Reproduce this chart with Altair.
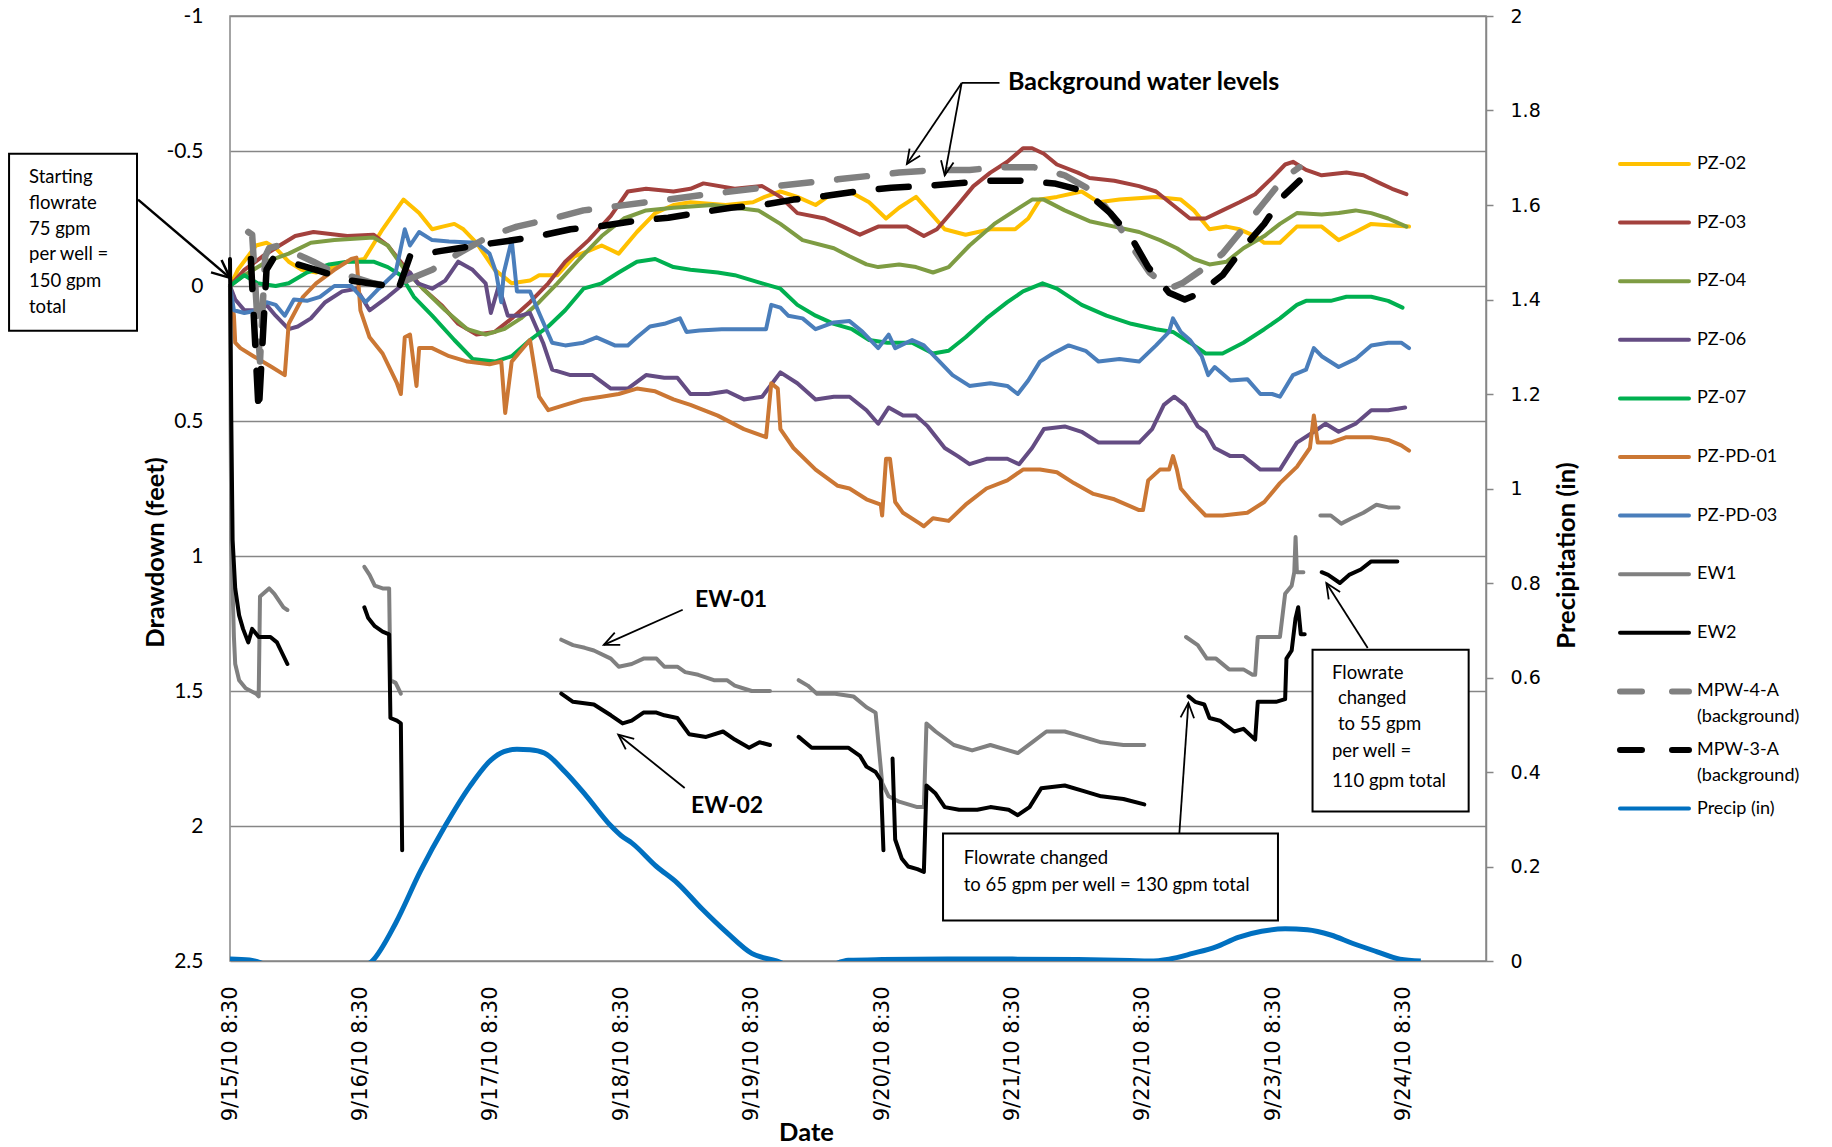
import math

import altair as alt
import pandas as pd

# ---------------------------------------------------------------------------
# Time axis: days elapsed since 9/15/10 8:30
# ---------------------------------------------------------------------------
TICK_DAYS = [0, 1, 2, 3, 4, 5, 6, 7, 8, 9]
TICK_LABELS = [
    "9/15/10 8:30", "9/16/10 8:30", "9/17/10 8:30", "9/18/10 8:30",
    "9/19/10 8:30", "9/20/10 8:30", "9/21/10 8:30", "9/22/10 8:30",
    "9/23/10 8:30", "9/24/10 8:30",
]
X_DOMAIN = [0, 9.63]

# ---------------------------------------------------------------------------
# Piezometer drawdown (feet)
# ---------------------------------------------------------------------------
pz02_day = [0, 0.06, 0.2, 0.28, 0.35, 0.45, 0.55, 0.66, 0.8, 0.9, 1.03, 1.17, 1.33, 1.45,
            1.55, 1.63, 1.72, 1.79, 1.89, 2.03, 2.16, 2.3, 2.37, 2.51, 2.64, 2.75, 2.85,
            2.98, 3.12, 3.26, 3.4, 3.53, 3.8, 4.01, 4.1, 4.22, 4.35, 4.49, 4.58, 4.66, 4.75,
            4.9, 5.03, 5.13, 5.26, 5.39, 5.48, 5.64, 5.83, 6.02, 6.12, 6.21, 6.34, 6.53,
            6.66, 6.82, 7.1, 7.29, 7.39, 7.51, 7.64, 7.74, 7.86, 7.93, 8.05, 8.18, 8.37,
            8.5, 8.63, 8.75, 8.88, 9.04]
pz02_dd = [0, -0.06, -0.15, -0.16, -0.14, -0.09, -0.06, -0.05, -0.07, -0.09, -0.1, -0.21,
           -0.32, -0.27, -0.21, -0.22, -0.23, -0.21, -0.16, -0.06, -0.01, -0.02, -0.04,
           -0.04, -0.11, -0.13, -0.15, -0.12, -0.2, -0.27, -0.3, -0.31, -0.3, -0.31, -0.33,
           -0.35, -0.33, -0.3, -0.33, -0.34, -0.35, -0.31, -0.25, -0.29, -0.33, -0.26,
           -0.21, -0.19, -0.21, -0.21, -0.25, -0.32, -0.33, -0.35, -0.31, -0.32, -0.33,
           -0.32, -0.28, -0.21, -0.22, -0.21, -0.185, -0.16, -0.16, -0.22, -0.22, -0.17,
           -0.2, -0.23, -0.225, -0.22]

pz03_day = [0, 0.11, 0.25, 0.38, 0.5, 0.64, 0.9, 1.1, 1.21, 1.34, 1.48, 1.62, 1.75, 1.89,
            2.03, 2.16, 2.3, 2.44, 2.57, 2.75, 2.92, 3.05, 3.19, 3.4, 3.53, 3.63, 3.87, 4.08,
            4.22, 4.35, 4.56, 4.7, 4.83, 4.97, 5.19, 5.32, 5.42, 5.58, 5.7, 5.83, 5.96,
            6.08, 6.15, 6.24, 6.34, 6.5, 6.59, 6.78, 6.97, 7.1, 7.23, 7.36, 7.48, 7.61,
            7.74, 7.86, 7.99, 8.09, 8.15, 8.25, 8.37, 8.56, 8.69, 8.82, 8.91, 9.02]
pz03_dd = [0, -0.06, -0.11, -0.15, -0.185, -0.2, -0.185, -0.19, -0.15, -0.07, 0.01, 0.07,
           0.14, 0.18, 0.17, 0.12, 0.06, -0.01, -0.09, -0.17, -0.26, -0.35, -0.36, -0.35,
           -0.36, -0.38, -0.36, -0.37, -0.33, -0.27, -0.25, -0.22, -0.19, -0.22, -0.22,
           -0.185, -0.21, -0.3, -0.37, -0.42, -0.46, -0.51, -0.51, -0.49, -0.45, -0.42,
           -0.4, -0.39, -0.37, -0.35, -0.3, -0.25, -0.25, -0.28, -0.31, -0.34, -0.4,
           -0.45, -0.46, -0.43, -0.41, -0.42, -0.41, -0.38, -0.36, -0.34]

pz04_day = [0, 0.11, 0.28, 0.45, 0.62, 0.8, 1.1, 1.21, 1.34, 1.48, 1.65, 1.82, 1.96, 2.1,
            2.23, 2.37, 2.51, 2.68, 2.85, 3.02, 3.19, 3.4, 3.7, 4.05, 4.22, 4.39, 4.63,
            4.75, 4.88, 4.97, 5.13, 5.26, 5.39, 5.51, 5.67, 5.86, 6.02, 6.15, 6.24, 6.4,
            6.59, 6.78, 6.97, 7.13, 7.26, 7.39, 7.51, 7.64, 7.77, 7.93, 8.05, 8.18, 8.37,
            8.5, 8.63, 8.75, 8.88, 9.02]
pz04_dd = [0, -0.04, -0.09, -0.12, -0.16, -0.17, -0.18, -0.15, -0.06, 0.01, 0.09, 0.16,
           0.18, 0.16, 0.12, 0.06, -0.01, -0.1, -0.185, -0.25, -0.28, -0.29, -0.3, -0.28,
           -0.23, -0.17, -0.14, -0.11, -0.08, -0.07, -0.08, -0.07, -0.05, -0.07, -0.15,
           -0.23, -0.28, -0.32, -0.32, -0.28, -0.24, -0.22, -0.2, -0.17, -0.14, -0.1,
           -0.08, -0.09, -0.14, -0.185, -0.23, -0.27, -0.265, -0.27, -0.28, -0.27, -0.25,
           -0.22]

pz06_day = [0, 0.04, 0.11, 0.21, 0.28, 0.35, 0.45, 0.52, 0.62, 0.73, 0.86, 0.97, 1.07,
            1.21, 1.31, 1.38, 1.44, 1.55, 1.65, 1.75, 1.86, 1.96, 2.0, 2.06, 2.13, 2.23,
            2.3, 2.4, 2.47, 2.61, 2.78, 2.92, 3.05, 3.19, 3.33, 3.43, 3.53, 3.67, 3.81,
            3.94, 4.08, 4.22, 4.35, 4.49, 4.63, 4.75, 4.88, 4.97, 5.05, 5.16, 5.26, 5.35,
            5.48, 5.58, 5.67, 5.8, 5.96, 6.05, 6.15, 6.24, 6.4, 6.53, 6.66, 6.85, 6.97,
            7.07, 7.16, 7.24, 7.32, 7.42, 7.48, 7.55, 7.67, 7.77, 7.9, 8.05, 8.18, 8.31,
            8.4, 8.5, 8.63, 8.75, 8.88, 9.01]
pz06_dd = [0, 0.05, 0.09, 0.09, 0.07, 0.11, 0.16, 0.15, 0.12, 0.06, 0.02, 0.01, 0.09, 0.04,
           0.0, -0.05, -0.01, 0.01, -0.02, -0.09, -0.06, -0.01, 0.1, 0.0, 0.11, 0.11, 0.1,
           0.21, 0.31, 0.33, 0.33, 0.38, 0.38, 0.33, 0.34, 0.34, 0.4, 0.4, 0.39, 0.42,
           0.41, 0.32, 0.36, 0.42, 0.41, 0.41, 0.46, 0.51, 0.45, 0.48, 0.48, 0.52, 0.6,
           0.63, 0.66, 0.64, 0.64, 0.66, 0.6, 0.53, 0.52, 0.54, 0.58, 0.58, 0.58, 0.53,
           0.44, 0.41, 0.44, 0.52, 0.54, 0.6, 0.63, 0.63, 0.68, 0.68, 0.58, 0.54, 0.51,
           0.54, 0.51, 0.46, 0.46, 0.45]

pz07_day = [0, 0.11, 0.21, 0.35, 0.45, 0.59, 0.76, 0.9, 1.1, 1.21, 1.31, 1.41, 1.55, 1.72,
            1.86, 2.03, 2.16, 2.3, 2.44, 2.57, 2.71, 2.85, 2.98, 3.12, 3.26, 3.4, 3.53,
            3.74, 3.87, 4.08, 4.22, 4.35, 4.49, 4.63, 4.77, 4.9, 5.04, 5.23, 5.39, 5.51,
            5.64, 5.8, 5.96, 6.08, 6.23, 6.34, 6.53, 6.72, 6.91, 7.1, 7.23, 7.36, 7.48,
            7.61, 7.77, 7.93, 8.05, 8.18, 8.25, 8.44, 8.56, 8.75, 8.88, 8.99]
pz07_dd = [0, -0.04, -0.01, 0, -0.01, -0.05, -0.08, -0.09, -0.09, -0.07, -0.04, 0.04, 0.11,
           0.2, 0.27, 0.28, 0.26, 0.2, 0.15, 0.09, 0.01, -0.01, -0.05, -0.09, -0.1, -0.07,
           -0.06, -0.05, -0.04, -0.01, 0.01, 0.07, 0.11, 0.14, 0.16, 0.2, 0.21, 0.21, 0.25,
           0.24, 0.19, 0.12, 0.06, 0.02, -0.01, 0.01, 0.07, 0.11, 0.14, 0.16, 0.17, 0.21,
           0.25, 0.25, 0.21, 0.16, 0.12, 0.07, 0.055, 0.055, 0.04, 0.04, 0.055, 0.08]

pzpd01_day = [0, 0.03, 0.04, 0.08, 0.18, 0.32, 0.42, 0.45, 0.56, 0.66, 0.8, 0.93, 0.97, 1.0,
              1.07, 1.17, 1.28, 1.31, 1.34, 1.38, 1.43, 1.45, 1.55, 1.68, 1.82, 1.99, 2.08,
              2.11, 2.16, 2.23, 2.3, 2.37, 2.44, 2.57, 2.71, 2.85, 2.98, 3.12, 3.26, 3.4,
              3.53, 3.74, 3.94, 4.11, 4.15, 4.2, 4.22, 4.32, 4.49, 4.66, 4.75, 4.88, 4.99,
              5.0, 5.03, 5.06, 5.1, 5.16, 5.29, 5.32, 5.39, 5.51, 5.64, 5.8, 5.96, 6.08,
              6.21, 6.34, 6.47, 6.62, 6.78, 6.97, 7.0, 7.04, 7.13, 7.2, 7.23, 7.26, 7.29,
              7.36, 7.48, 7.61, 7.8, 7.93, 8.05, 8.18, 8.28, 8.31, 8.34, 8.44, 8.56, 8.75,
              8.88, 8.98, 9.04]
pzpd01_dd = [0, 0.11, 0.21, 0.23, 0.26, 0.3, 0.33, 0.14, 0.04, -0.01, -0.06, -0.1, -0.105,
             0.09, 0.19, 0.25, 0.36, 0.4, 0.19, 0.18, 0.37, 0.23, 0.23, 0.26, 0.28, 0.29,
             0.28, 0.47, 0.28, 0.24, 0.2, 0.41, 0.46, 0.44, 0.42, 0.41, 0.4, 0.38, 0.39,
             0.42, 0.44, 0.48, 0.53, 0.56, 0.36, 0.38, 0.53, 0.6, 0.68, 0.74, 0.75, 0.79,
             0.81, 0.85, 0.64, 0.64, 0.8, 0.84, 0.88, 0.89, 0.86, 0.87, 0.81, 0.75, 0.72,
             0.68, 0.68, 0.69, 0.73, 0.77, 0.79, 0.83, 0.83, 0.72, 0.68, 0.68, 0.63, 0.68,
             0.75, 0.79, 0.85, 0.85, 0.84, 0.8, 0.73, 0.67, 0.6, 0.48, 0.58, 0.58, 0.56,
             0.56, 0.57, 0.59, 0.61]

pzpd03_day = [0, 0.03, 0.11, 0.21, 0.28, 0.35, 0.42, 0.49, 0.59, 0.69, 0.8, 0.93, 1.04,
              1.14, 1.27, 1.34, 1.38, 1.45, 1.55, 1.68, 1.89, 1.99, 2.04, 2.08, 2.1, 2.13,
              2.16, 2.2, 2.3, 2.37, 2.47, 2.57, 2.71, 2.81, 2.95, 3.05, 3.12, 3.22, 3.33,
              3.45, 3.5, 3.6, 3.77, 3.98, 4.11, 4.15, 4.22, 4.28, 4.39, 4.49, 4.63, 4.75,
              4.85, 4.97, 5.05, 5.1, 5.23, 5.32, 5.42, 5.54, 5.67, 5.83, 5.96, 6.04, 6.12,
              6.21, 6.31, 6.43, 6.56, 6.66, 6.82, 6.97, 7.1, 7.2, 7.23, 7.29, 7.36, 7.45,
              7.5, 7.55, 7.67, 7.8, 7.9, 7.99, 8.05, 8.15, 8.25, 8.31, 8.37, 8.5, 8.63,
              8.75, 8.88, 8.98, 9.04]
pzpd03_dd = [0, 0.09, 0.1, 0.09, 0.06, 0.07, 0.11, 0.05, 0.055, 0.04, 0.0, 0.0, 0.06, 0.01,
             -0.05, -0.21, -0.15, -0.2, -0.17, -0.165, -0.16, -0.12, -0.05, 0.06, -0.05,
             -0.11, -0.17, 0.02, 0.02, 0.1, 0.21, 0.22, 0.21, 0.19, 0.22, 0.22, 0.19, 0.15,
             0.14, 0.12, 0.17, 0.165, 0.16, 0.16, 0.16, 0.07, 0.08, 0.11, 0.12, 0.16, 0.135,
             0.13, 0.17, 0.23, 0.18, 0.23, 0.2, 0.22, 0.27, 0.33, 0.37, 0.36, 0.37, 0.4,
             0.35, 0.28, 0.25, 0.22, 0.24, 0.28, 0.27, 0.28, 0.22, 0.17, 0.12, 0.17, 0.2,
             0.26, 0.33, 0.3, 0.35, 0.345, 0.4, 0.4, 0.41, 0.33, 0.31, 0.23, 0.26, 0.3,
             0.27, 0.22, 0.21, 0.21, 0.23]

# ---------------------------------------------------------------------------
# Extraction wells (segments separated by gaps in the record)
# ---------------------------------------------------------------------------
ew1_days = [
    [0.0, 0.01, 0.03, 0.04, 0.07, 0.12, 0.2, 0.22, 0.23, 0.3, 0.34, 0.41, 0.44],
    [1.03, 1.07, 1.11, 1.17, 1.22, 1.23, 1.27, 1.31],
    [2.54, 2.63, 2.72, 2.79, 2.92, 2.98, 3.08, 3.17, 3.27, 3.33, 3.43, 3.49, 3.59, 3.71,
     3.81, 3.87, 4.0, 4.14],
    [4.36, 4.43, 4.5, 4.64, 4.78, 4.88, 4.95, 5.0, 5.05, 5.13, 5.27, 5.32, 5.34, 5.41,
     5.55, 5.69, 5.83, 5.97, 6.04, 6.15, 6.26, 6.4, 6.54, 6.68, 6.85, 7.01],
    [7.33, 7.42, 7.49, 7.56, 7.66, 7.77, 7.84, 7.86, 7.88, 7.95, 8.05, 8.09, 8.14, 8.16,
     8.17, 8.18, 8.23],
    [8.36, 8.44, 8.52, 8.6, 8.69, 8.79, 8.88, 8.96],
]
ew1_dd = [
    [0.0, 0.95, 1.3, 1.4, 1.46, 1.49, 1.51, 1.52, 1.15, 1.12, 1.14, 1.19, 1.2],
    [1.04, 1.07, 1.11, 1.12, 1.12, 1.46, 1.47, 1.51],
    [1.31, 1.33, 1.34, 1.35, 1.38, 1.41, 1.4, 1.38, 1.38, 1.41, 1.41, 1.43, 1.44, 1.46,
     1.46, 1.48, 1.5, 1.5],
    [1.46, 1.48, 1.51, 1.51, 1.52, 1.56, 1.58, 1.84, 1.89, 1.91, 1.93, 1.93, 1.62, 1.65,
     1.7, 1.72, 1.7, 1.72, 1.73, 1.69, 1.65, 1.65, 1.67, 1.69, 1.7, 1.7],
    [1.3, 1.33, 1.38, 1.38, 1.42, 1.42, 1.44, 1.44, 1.3, 1.3, 1.3, 1.14, 1.11, 1.06,
     0.93, 1.06, 1.06],
    [0.85, 0.85, 0.88, 0.86, 0.84, 0.81, 0.82, 0.82],
]

ew2_days = [
    [0.0, 0.01, 0.02, 0.04, 0.07, 0.1, 0.14, 0.17, 0.22, 0.31, 0.36, 0.39, 0.44],
    [1.03, 1.06, 1.11, 1.17, 1.22, 1.23, 1.28, 1.31, 1.32],
    [2.54, 2.63, 2.79, 2.92, 3.01, 3.08, 3.17, 3.27, 3.33, 3.43, 3.52, 3.65, 3.78, 3.87,
     3.98, 4.06, 4.14],
    [4.36, 4.46, 4.57, 4.74, 4.83, 4.88, 4.95, 4.99, 5.01],
    [5.08, 5.1, 5.15, 5.2, 5.27, 5.32, 5.34, 5.41, 5.48, 5.59, 5.73, 5.83, 5.97, 6.04,
     6.13, 6.22, 6.4, 6.54, 6.68, 6.85, 7.01],
    [7.35, 7.4, 7.47, 7.51, 7.59, 7.7, 7.77, 7.86, 7.88, 8.02, 8.09, 8.1, 8.14, 8.17,
     8.19, 8.21, 8.24],
    [8.37, 8.42, 8.51, 8.58, 8.67, 8.75, 8.82, 8.95],
]
ew2_dd = [
    [-0.1, 0.5, 0.94, 1.12, 1.22, 1.27, 1.32, 1.27, 1.3, 1.3, 1.32, 1.35, 1.4],
    [1.19, 1.23, 1.26, 1.28, 1.29, 1.6, 1.61, 1.62, 2.09],
    [1.51, 1.54, 1.55, 1.59, 1.62, 1.61, 1.58, 1.58, 1.59, 1.6, 1.66, 1.67, 1.65, 1.68,
     1.71, 1.69, 1.7],
    [1.67, 1.71, 1.71, 1.71, 1.74, 1.78, 1.8, 1.83, 2.09],
    [1.75, 2.05, 2.12, 2.15, 2.16, 2.17, 1.85, 1.88, 1.93, 1.94, 1.94, 1.93, 1.94, 1.96,
     1.93, 1.86, 1.85, 1.87, 1.89, 1.9, 1.92],
    [1.52, 1.54, 1.55, 1.6, 1.61, 1.65, 1.64, 1.68, 1.54, 1.54, 1.53, 1.38, 1.35, 1.23,
     1.19, 1.29, 1.29],
    [1.06, 1.07, 1.1, 1.07, 1.05, 1.02, 1.02, 1.02],
]

# ---------------------------------------------------------------------------
# Background monitoring wells
# ---------------------------------------------------------------------------
mpw4a_day = [0.14, 0.17, 0.23, 0.27, 0.3, 0.37, 0.64, 0.76, 1.1, 1.2, 1.35, 1.55, 1.75,
             1.99, 2.2, 2.47, 2.71, 3.19, 3.67, 4.18, 4.66, 5.13, 5.42, 5.67, 5.91, 6.16,
             6.4, 6.62, 6.78, 6.91, 7.05, 7.2, 7.3, 7.45, 7.61, 7.78, 7.93, 8.08, 8.2]
mpw4a_dd = [-0.2, -0.19, 0.28, -0.11, -0.14, -0.15, -0.09, -0.06, -0.01, 0.0, -0.02, -0.06,
            -0.12, -0.185, -0.22, -0.25, -0.28, -0.31, -0.34, -0.37, -0.395, -0.42, -0.43,
            -0.43, -0.44, -0.44, -0.41, -0.35, -0.25, -0.15, -0.05, 0.01, -0.01, -0.06,
            -0.12, -0.22, -0.31, -0.4, -0.44]

mpw3a_day = [0.16, 0.22, 0.28, 0.33, 0.45, 0.69, 0.93, 1.22, 1.27, 1.3, 1.38, 1.62, 1.86,
             2.13, 2.37, 2.61, 2.85, 3.09, 3.36, 3.58, 3.84, 4.08, 4.32, 4.56, 4.83, 5.07,
             5.32, 5.56, 5.83, 6.05, 6.32, 6.56, 6.75, 6.91, 7.04, 7.2, 7.32, 7.42, 7.61,
             7.75, 7.93, 8.07, 8.2]
mpw3a_dd = [-0.1, 0.47, -0.06, -0.1, -0.09, -0.055, -0.02, 0.0, 0.025, 0.0, -0.11, -0.13,
            -0.148, -0.167, -0.185, -0.21, -0.222, -0.24, -0.253, -0.27, -0.29, -0.3,
            -0.32, -0.333, -0.352, -0.364, -0.37, -0.38, -0.39, -0.39, -0.38, -0.35, -0.27,
            -0.18, -0.07, 0.025, 0.05, 0.03, -0.04, -0.13, -0.23, -0.33, -0.39]

# ---------------------------------------------------------------------------
# Precipitation (in), smoothed curve; dips below zero fall outside the plot
# ---------------------------------------------------------------------------
precip_day = [0.0, 0.15, 0.3, 0.7, 1.0, 1.09, 1.27, 1.46, 1.65, 1.84, 2.0, 2.1, 2.2, 2.3,
              2.41, 2.57, 2.73, 2.92, 3.0, 3.08, 3.27, 3.43, 3.62, 3.81, 4.0, 4.19, 4.4,
              4.6, 4.74, 5.0, 5.5, 6.0, 6.5, 6.9, 7.05, 7.2, 7.38, 7.56, 7.73, 7.91, 8.09,
              8.26, 8.44, 8.61, 8.79, 8.97, 9.13]
precip_in = [0.004, 0.002, -0.01, -0.04, -0.015, 0.0, 0.08, 0.19, 0.286, 0.37, 0.425,
             0.443, 0.448, 0.447, 0.44, 0.4, 0.35, 0.286, 0.265, 0.25, 0.2, 0.165, 0.11,
             0.06, 0.016, 0.0, -0.02, -0.01, 0.0015, 0.003, 0.004, 0.004, 0.003, 0.001,
             0.0, 0.004, 0.016, 0.03, 0.05, 0.063, 0.068, 0.066, 0.055, 0.037, 0.02, 0.004,
             0.0]

# ---------------------------------------------------------------------------
# Series styling, in drawing order
# ---------------------------------------------------------------------------
SERIES = ["PZ-02", "PZ-03", "PZ-04", "PZ-06", "PZ-07", "PZ-PD-01", "PZ-PD-03",
          "EW1", "EW2", "MPW-4-A", "MPW-3-A", "Precip (in)"]
SERIES_SUB = ["", "", "", "", "", "", "", "", "", "(background)", "(background)", ""]
COLORS = ["#FFC000", "#A3413D", "#7E9C43", "#644C83", "#00B050", "#CB7734", "#4A7EBB",
          "#808080", "#000000", "#808080", "#000000", "#0070C0"]
DASHED = [False] * 9 + [True, True, False]
DASH = [30, 26]
GRID = "#868686"

well_series = {
    "PZ-02": ([pz02_day], [pz02_dd]),
    "PZ-03": ([pz03_day], [pz03_dd]),
    "PZ-04": ([pz04_day], [pz04_dd]),
    "PZ-06": ([pz06_day], [pz06_dd]),
    "PZ-07": ([pz07_day], [pz07_dd]),
    "PZ-PD-01": ([pzpd01_day], [pzpd01_dd]),
    "PZ-PD-03": ([pzpd03_day], [pzpd03_dd]),
    "EW1": (ew1_days, ew1_dd),
    "EW2": (ew2_days, ew2_dd),
    "MPW-4-A": ([mpw4a_day], [mpw4a_dd]),
    "MPW-3-A": ([mpw3a_day], [mpw3a_dd]),
}

rows = []
for name, (seg_days, seg_vals) in well_series.items():
    for s, (ds, vs) in enumerate(zip(seg_days, seg_vals)):
        for i, (d, v) in enumerate(zip(ds, vs)):
            rows.append({"series": name, "seg": s, "i": i, "day": d, "dd": v})
wells = pd.DataFrame(rows)
precip = pd.DataFrame({"day": precip_day, "p": precip_in})

# ---------------------------------------------------------------------------
# Annotations (days, feet)
# ---------------------------------------------------------------------------
box_x = [-1.694, 5.467, 8.3]
box_x2 = [-0.713, 8.035, 9.497]
box_y = [-0.49, 2.028, 1.347]
box_y2 = [0.166, 2.35, 1.946]

note_text = ["Starting", "flowrate", "75 gpm", "per well =", "150 gpm", "total",
             "Flowrate changed", "to 65 gpm per well = 130 gpm total",
             "Flowrate", "changed", "to 55 gpm", "per well =", "110 gpm total"]
note_x = [-1.541] * 6 + [5.625, 5.625] + [8.449, 8.495, 8.495, 8.449, 8.449]
note_y = [-0.403, -0.307, -0.212, -0.117, -0.017, 0.078, 2.119, 2.217,
          1.432, 1.527, 1.623, 1.722, 1.835]

label_text = ["Background water levels", "EW-01", "EW-02"]
label_x = [5.965, 3.565, 3.534]
label_y = [-0.757, 1.162, 1.927]
label_size = [25, 23, 23]

arrow_x0 = [-0.705, 5.61, 5.61, 3.471, 3.486, 7.279, 8.723]
arrow_y0 = [-0.32, -0.752, -0.752, 1.199, 1.859, 2.026, 1.341]
arrow_x1 = [0.0, 5.19, 5.48, 2.866, 2.977, 7.348, 8.406]
arrow_y1 = [-0.03, -0.452, -0.41, 1.329, 1.662, 1.544, 1.1]
arrow_w = [2.5, 1.8, 1.8, 1.8, 1.8, 1.8, 1.8]
arrow_head = [1300, 800, 800, 900, 900, 900, 900]

leader_x0 = [5.9]
leader_x1 = [5.61]
leader_y = [-0.752]

# ---------------------------------------------------------------------------
WIDTH, HEIGHT = 1256, 945
PX_PER_DAY = WIDTH / (X_DOMAIN[1] - X_DOMAIN[0])
PX_PER_FT = HEIGHT / 3.5


def heading(x0, y0, x1, y1):
    dx = (x1 - x0) * PX_PER_DAY
    dy = (y1 - y0) * PX_PER_FT  # drawdown axis runs downward
    return math.degrees(math.atan2(dx, -dy)) % 360


boxes = pd.DataFrame({"day": box_x, "day2": box_x2, "dd": box_y, "dd2": box_y2})
notes = pd.DataFrame({"day": note_x, "dd": note_y, "label": note_text})
labels = pd.DataFrame({"day": label_x, "dd": label_y, "label": label_text,
                       "fs": label_size})
arrows = pd.DataFrame({
    "day": arrow_x0 + leader_x0, "dd": arrow_y0 + leader_y,
    "day2": arrow_x1 + leader_x1, "dd2": arrow_y1 + leader_y,
    "w": arrow_w + [1.8],
})
heads = pd.DataFrame({
    "day": arrow_x1, "dd": arrow_y1, "size": arrow_head, "w": arrow_w,
    "ang": [heading(a, b, c, d) for a, b, c, d in zip(arrow_x0, arrow_y0, arrow_x1, arrow_y1)],
})

legend = pd.DataFrame({
    "row": list(range(len(SERIES))), "name": SERIES, "sub": SERIES_SUB, "color": COLORS,
    "dash": ["dash" if d else "solid" for d in DASHED],
    "w": [6 if d else 4 for d in DASHED],
})

# ---------------------------------------------------------------------------
label_expr = "[" + ",".join(f"'{t}'" for t in TICK_LABELS) + "][datum.value]"
TITLE_SIZE = 25.5

X = alt.X(
    "day:Q",
    scale=alt.Scale(domain=X_DOMAIN, nice=False, zero=False),
    axis=alt.Axis(
        values=TICK_DAYS, labelExpr=label_expr, labelAngle=270, labelFont="DejaVu Sans",
        labelFontSize=21, labelColor="black", labelPadding=25, labelOverlap=False,
        labelFlush=False, ticks=False, domain=False, grid=False,
        title="Date", titleFont="Lato", titleFontSize=TITLE_SIZE, titleFontWeight="bold",
        titleColor="black", titleX=576, titleY=179, titleBaseline="alphabetic",
        titleAlign="center",
    ),
)
X2 = alt.X2("day2:Q")

Y = alt.Y(
    "dd:Q",
    scale=alt.Scale(domain=[-1, 2.5], reverse=True, nice=False, zero=False),
    axis=alt.Axis(
        orient="left", values=[-1, -0.5, 0, 0.5, 1, 1.5, 2, 2.5],
        labelExpr="'' + datum.value", grid=True, ticks=False, domain=False,
        labelFont="Lato", labelFontSize=21, labelColor="black", labelPadding=27,
        labelFlush=False, title="Drawdown (feet)", titleFont="Lato",
        titleFontSize=TITLE_SIZE, titleFontWeight="bold", titleColor="black",
        titleAngle=270, titleX=-75, titleY=536, titleAlign="center",
        titleBaseline="middle",
    ),
)
Y2 = alt.Y2("dd2:Q")

base = alt.Chart(wells)
layers = []
for name, color, dashed in zip(SERIES[:11], COLORS[:11], DASHED[:11]):
    style = dict(color=color, strokeJoin="round", strokeCap="round",
                 strokeWidth=6.5 if dashed else 4)
    if dashed:
        style["strokeDash"] = DASH
    layers.append(
        base.transform_filter(alt.datum.series == name)
        .mark_line(**style)
        .encode(x=X, y=Y, detail="seg:N", order="i:Q")
    )

CHEVRON = "M-0.45,1L0,0L0.45,1"
layers += [
    alt.Chart(arrows).mark_rule(color="black", strokeCap="butt").encode(
        x=X, x2=X2, y=Y, y2=Y2, strokeWidth=alt.StrokeWidth("w:Q", scale=None)),
    alt.Chart(heads).mark_point(shape=CHEVRON, filled=False, color="black", opacity=1,
                                strokeJoin="miter").encode(
        x=X, y=Y, angle=alt.Angle("ang:Q", scale=None),
        size=alt.Size("size:Q", scale=None),
        strokeWidth=alt.StrokeWidth("w:Q", scale=None)),
    alt.Chart(boxes).mark_rect(fill="white", stroke="black", strokeWidth=2).encode(
        x=X, x2=X2, y=Y, y2=Y2),
    alt.Chart(notes).mark_text(align="left", baseline="middle", font="Lato",
                               fontSize=18.5, color="black").encode(
        x=X, y=Y, text="label:N"),
    alt.Chart(labels).mark_text(align="left", baseline="middle", font="Lato",
                                fontWeight="bold", color="black").encode(
        x=X, y=Y, text="label:N", size=alt.Size("fs:Q", scale=None)),
]
drawdown = alt.layer(*layers)

precip_line = alt.Chart(precip).mark_line(
    color="#0070C0", strokeWidth=5, interpolate="monotone", clip=True
).encode(
    x=X,
    y=alt.Y(
        "p:Q",
        scale=alt.Scale(domain=[0, 2], nice=False, zero=False),
        axis=alt.Axis(
            orient="right", values=[0, 0.2, 0.4, 0.6, 0.8, 1, 1.2, 1.4, 1.6, 1.8, 2],
            labelExpr="'' + datum.value", grid=False, ticks=True, tickSize=7,
            tickColor=GRID, tickWidth=1.5, domain=True, domainColor=GRID, domainWidth=1.5,
            labelFont="DejaVu Sans", labelFontSize=19, labelColor="black",
            labelPadding=17, labelFlush=False, title="Precipitation (in)",
            titleFont="Lato", titleFontSize=TITLE_SIZE, titleFontWeight="bold",
            titleColor="black", titleAngle=270, titleX=80, titleY=539,
            titleAlign="center", titleBaseline="middle",
        ),
    ),
)

# Series key to the right of the plot
LY = alt.Y("row:Q", scale=alt.Scale(domain=[0, 11], range=[148, 792.6]), axis=None)
key_base = alt.Chart(legend)
key = alt.layer(
    key_base.mark_rule(strokeCap="round").encode(
        x=alt.value(1390), x2=alt.value(1459), y=LY,
        color=alt.Color("color:N", scale=None),
        strokeWidth=alt.StrokeWidth("w:Q", scale=None),
        strokeDash=alt.StrokeDash("dash:N", legend=None,
                                  scale=alt.Scale(domain=["solid", "dash"],
                                                  range=[[1, 0], [22, 30]])),
    ),
    key_base.mark_text(align="left", baseline="middle", font="Lato", fontSize=18,
                       color="black").encode(x=alt.value(1467), y=LY, text="name:N"),
    key_base.mark_text(align="left", baseline="middle", font="Lato", fontSize=18,
                       color="black", dy=26).encode(x=alt.value(1467), y=LY, text="sub:N"),
)

chart = (
    alt.layer(drawdown, precip_line, key)
    .resolve_scale(y="independent")
    .properties(
        width=WIDTH, height=HEIGHT,
        autosize=alt.AutoSizeParams(type="none"),
        padding={"left": 230, "top": 16, "right": 346, "bottom": 186},
        background="white",
    )
    .configure_view(stroke=GRID, strokeWidth=1.5)
    .configure_axis(gridColor=GRID, gridWidth=1.5, domainColor=GRID, domainWidth=1.5)
)

chart.save("out.html", embed_options={"renderer": "svg", "actions": False})
